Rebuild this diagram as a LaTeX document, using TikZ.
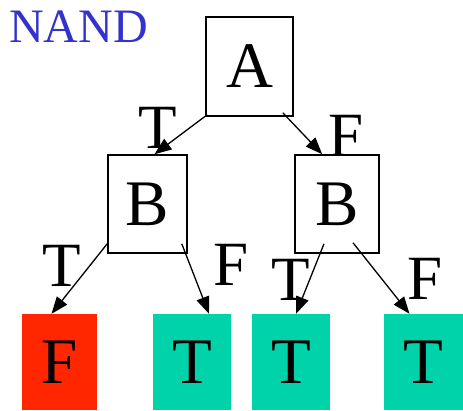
\documentclass[tikz,border=0pt]{standalone}
\usepackage{fontspec}
\setmainfont{Liberation Serif}
\usetikzlibrary{arrows.meta,calc}
\definecolor{nandblue}{RGB}{51,51,204}
\definecolor{leafred}{RGB}{255,38,0}
\definecolor{leafteal}{RGB}{0,210,170}
\begin{document}
\begin{tikzpicture}[x=1pt,y=-1pt,
  big/.style={font=\fontsize{65}{65}\selectfont},
  varbox/.style={draw,line width=1.5pt,inner sep=0pt,big},
  leafbox/.style={inner sep=0pt,big,minimum width=78pt,minimum height=96pt},
  edgelbl/.style={inner sep=0pt,font=\fontsize{63}{63}\selectfont},
  arr/.style={line width=1.3pt,-{Triangle[length=17pt,width=13pt]}}]
\useasboundingbox (0,0) rectangle (463,410);
\node[text=nandblue,font=\fontsize{48}{48}\selectfont,inner sep=0pt,anchor=west] (title) at (9,27) {NAND};
\node[varbox,minimum width=87pt,minimum height=99pt] (A) at (249.5,66.5) {A};
\node[varbox,minimum width=79pt,minimum height=98pt] (BL) at (147.5,204) {B};
\node[varbox,minimum width=84pt,minimum height=98pt] (BR) at (337,204) {B};
\node[leafbox,fill=leafred,minimum width=75pt] (L1) at (59.5,362) {F};
\node[leafbox,fill=leafteal] (L2) at (192,362) {T};
\node[leafbox,fill=leafteal] (L3) at (291,362) {T};
\node[leafbox,fill=leafteal,minimum width=79pt] (L4) at (423.5,362) {T};
% edges
\draw[arr] ($(A.south west)+(2,-2)$) -- ($(BL.north)+(7,0)$);
\draw[arr] ($(A.south east)+(-11,-4)$) -- ($(BR.north west)+(28,0)$);
\draw[arr] ($(BL.south west)+(0,-10)$) -- ($(L1.north)+(-8,0)$);
\draw[arr] ($(BL.south east)+(-6,-10)$) -- ($(L2.north)+(17,0)$);
\draw[arr] ($(BR.south)+(-13,-10)$) -- ($(L3.north)+(5,0)$);
\draw[arr] ($(BR.south)+(16,-11)$) -- ($(L4.north)+(-14,0)$);
% edge labels
\node[edgelbl] (t1) at (158,128) {T};
\node[edgelbl] (f1) at (346,136) {F};
\node[edgelbl] (t2) at (62,266) {T};
\node[edgelbl] (f2) at (231,265) {F};
\node[edgelbl] (t3) at (291,280) {T};
\node[edgelbl] (f3) at (425,279) {F};
\end{tikzpicture}
\end{document}
